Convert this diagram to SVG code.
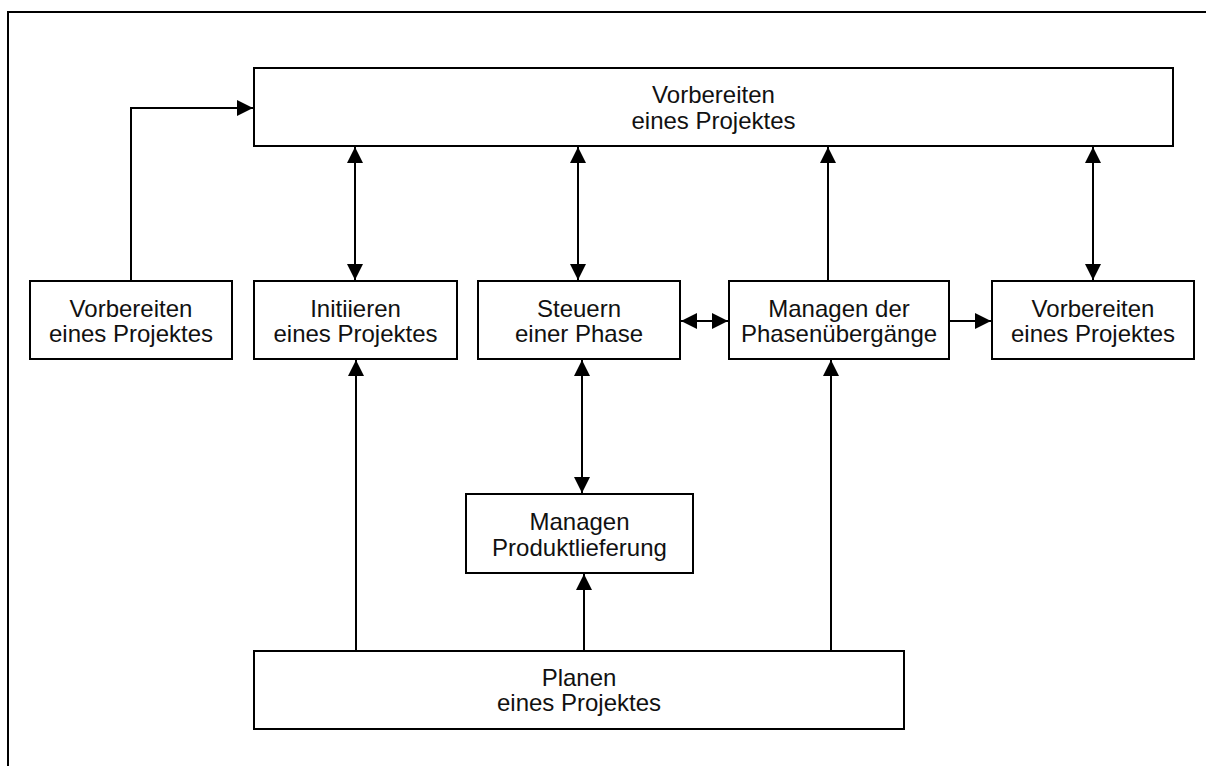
<svg xmlns="http://www.w3.org/2000/svg" width="1206" height="766" viewBox="0 0 1206 766">
  <style>
    .box { fill: #ffffff; stroke: #000000; stroke-width: 2; }
    .frame { fill: none; stroke: #000000; stroke-width: 2; }
    .conn { fill: none; stroke: #000000; stroke-width: 2; }
    .lbl { font-family: "Liberation Sans", Arial, sans-serif; font-size: 24px; fill: #111111; text-anchor: middle; }
  </style>
  <defs>
    <marker id="head" markerUnits="userSpaceOnUse" markerWidth="16" markerHeight="16" viewBox="0 0 15 15" refX="15" refY="7.5" orient="auto-start-reverse">
      <path d="M0 0 L15 7.5 L0 15 Z" fill="#000000"/>
    </marker>
  </defs>

  <rect width="1206" height="766" fill="#ffffff"/>
  <!-- outer frame: top and left edges only reach inside the page -->
  <path class="frame" d="M1240 12 H8 V800"/>

  <g id="connectors">
    <path class="conn" d="M131 281 V108 H253" marker-end="url(#head)"/>
    <path class="conn" d="M355 147 V280" marker-start="url(#head)" marker-end="url(#head)"/>
    <path class="conn" d="M578 147 V280" marker-start="url(#head)" marker-end="url(#head)"/>
    <path class="conn" d="M828 281 V147" marker-end="url(#head)"/>
    <path class="conn" d="M1093 147 V280" marker-start="url(#head)" marker-end="url(#head)"/>
    <path class="conn" d="M681 321 H728" marker-start="url(#head)" marker-end="url(#head)"/>
    <path class="conn" d="M949 321 H991" marker-end="url(#head)"/>
    <path class="conn" d="M582 360 V493" marker-start="url(#head)" marker-end="url(#head)"/>
    <path class="conn" d="M356 651 V360" marker-end="url(#head)"/>
    <path class="conn" d="M584 651 V574" marker-end="url(#head)"/>
    <path class="conn" d="M831 651 V360" marker-end="url(#head)"/>
  </g>

  <g id="node-top">
    <rect class="box" x="254" y="68" width="919" height="78"/>
    <text class="lbl" x="713.5" y="103">Vorbereiten</text>
    <text class="lbl" x="713.5" y="129">eines Projektes</text>
  </g>
  <g id="node-vorbereiten-left">
    <rect class="box" x="30" y="281" width="202" height="78"/>
    <text class="lbl" x="131" y="316.5">Vorbereiten</text>
    <text class="lbl" x="131" y="342">eines Projektes</text>
  </g>
  <g id="node-initiieren">
    <rect class="box" x="254" y="281" width="203" height="78"/>
    <text class="lbl" x="355.5" y="316.5">Initiieren</text>
    <text class="lbl" x="355.5" y="342">eines Projektes</text>
  </g>
  <g id="node-steuern">
    <rect class="box" x="478" y="281" width="202" height="78"/>
    <text class="lbl" x="579" y="316.5">Steuern</text>
    <text class="lbl" x="579" y="342">einer Phase</text>
  </g>
  <g id="node-phasenuebergaenge">
    <rect class="box" x="729" y="281" width="220" height="78"/>
    <text class="lbl" x="839" y="316.5">Managen der</text>
    <text class="lbl" x="839" y="342">Phasenübergänge</text>
  </g>
  <g id="node-vorbereiten-right">
    <rect class="box" x="992" y="281" width="202" height="78"/>
    <text class="lbl" x="1093" y="316.5">Vorbereiten</text>
    <text class="lbl" x="1093" y="342">eines Projektes</text>
  </g>
  <g id="node-produktlieferung">
    <rect class="box" x="466" y="494" width="227" height="79"/>
    <text class="lbl" x="579.5" y="530">Managen</text>
    <text class="lbl" x="579.5" y="556">Produktlieferung</text>
  </g>
  <g id="node-planen">
    <rect class="box" x="254" y="651" width="650" height="78"/>
    <text class="lbl" x="579" y="685.5">Planen</text>
    <text class="lbl" x="579" y="711">eines Projektes</text>
  </g>
</svg>
